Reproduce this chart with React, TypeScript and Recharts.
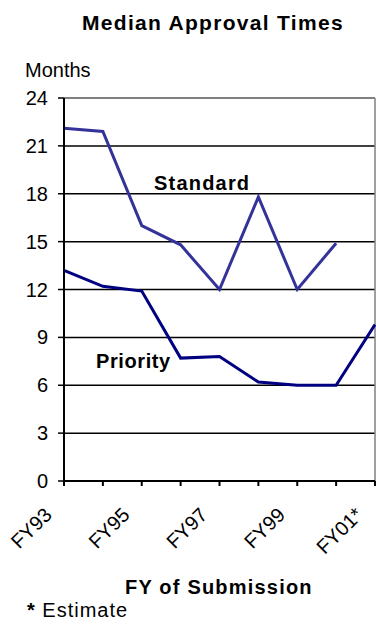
import React from 'react';
import {
  LineChart,
  Line,
  XAxis,
  YAxis,
  CartesianGrid,
  ReferenceLine,
} from 'recharts';

// fiscal years on the x axis (FY01 is an estimate)
const years = ['FY93', 'FY94', 'FY95', 'FY96', 'FY97', 'FY98', 'FY99', 'FY00', 'FY01*'];
const standard: (number | null)[] = [22.1, 21.9, 16.0, 14.8, 12.0, 17.8, 12.0, 14.9, null];
const priority: number[] = [13.2, 12.2, 11.9, 7.7, 7.8, 6.2, 6.0, 6.0, 9.8];
const shownYears = ['FY93', 'FY95', 'FY97', 'FY99', 'FY01*'];
const monthTicks = [0, 3, 6, 9, 12, 15, 18, 21, 24];

const data = years.map((fy, i) => ({ fy, standard: standard[i], priority: priority[i] }));

const FONT = '"Liberation Sans", Arial, sans-serif';

const txt = (extra: React.CSSProperties): React.CSSProperties => ({
  position: 'absolute',
  fontFamily: FONT,
  fontSize: 20,
  lineHeight: '20px',
  color: '#000',
  whiteSpace: 'nowrap',
  ...extra,
});

export default function App() {
  return (
    <div style={{ position: 'absolute', left: 0, top: 0, width: 376, height: 624, background: '#fff', overflow: 'hidden' }}>
      <div style={txt({ left: 82, top: 12, fontSize: 21, lineHeight: '21px', fontWeight: 'bold', letterSpacing: 1.3 })}>
        Median Approval Times
      </div>
      <div style={txt({ left: 25, top: 60 })}>Months</div>

      <div style={{ position: 'absolute', left: 0, top: 0 }}>
        <LineChart width={376} height={560} data={data} margin={{ top: 98, right: 1, left: 0, bottom: 19 }}>
          <CartesianGrid vertical={false} stroke="#000" strokeWidth={1.5} />
          <ReferenceLine y={24} stroke="#808080" strokeWidth={2} />
          <ReferenceLine x="FY01*" stroke="#808080" strokeWidth={1.5} />
          <XAxis
            dataKey="fy"
            interval={0}
            height={60}
            tickSize={5}
            tickMargin={0}
            axisLine={{ stroke: '#000', strokeWidth: 2 }}
            tickLine={{ stroke: '#000', strokeWidth: 2 }}
            tickFormatter={(v: string) => (shownYears.includes(v) ? v : '')}
            tick={{ angle: -45, textAnchor: 'end', dx: -21, dy: 20, fontSize: 20, fontFamily: FONT, fill: '#000' }}
          />
          <YAxis
            width={64}
            domain={[0, 24]}
            ticks={monthTicks}
            interval={0}
            tickSize={6}
            tickMargin={10}
            axisLine={{ stroke: '#000', strokeWidth: 2 }}
            tickLine={{ stroke: '#000', strokeWidth: 1.5 }}
            tick={{ fontSize: 20, fontFamily: FONT, fill: '#000' }}
          />
          <Line
            dataKey="standard"
            type="linear"
            stroke="#333399"
            strokeWidth={3}
            dot={false}
            isAnimationActive={false}
          />
          <Line
            dataKey="priority"
            type="linear"
            stroke="#000080"
            strokeWidth={3}
            dot={false}
            isAnimationActive={false}
          />
        </LineChart>
      </div>

      <div style={txt({ left: 154, top: 173, fontWeight: 'bold', letterSpacing: 1.2 })}>Standard</div>
      <div style={txt({ left: 96, top: 351, fontWeight: 'bold', letterSpacing: 0.6 })}>Priority</div>

      <div style={txt({ left: 125, top: 577, fontWeight: 'bold', letterSpacing: 1.2 })}>FY of Submission</div>
      <div style={txt({ left: 27, top: 600, letterSpacing: 1 })}>
        <b>*</b> Estimate
      </div>
    </div>
  );
}
